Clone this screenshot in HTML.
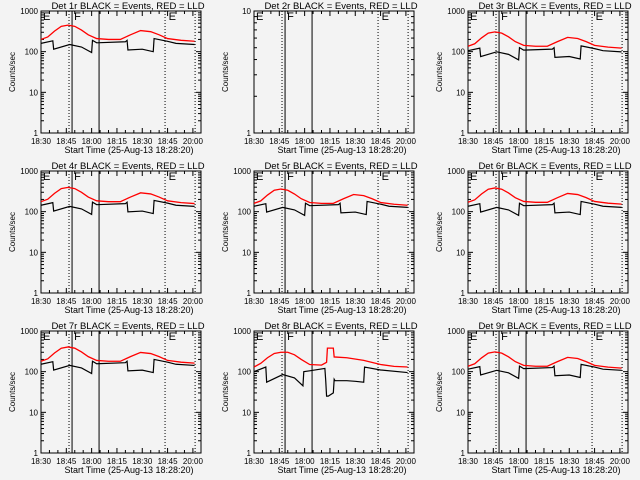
<!DOCTYPE html>
<html><head><meta charset="utf-8"><style>
body{margin:0;background:#f3f3f3;}
svg{display:block;font-family:"Liberation Sans",sans-serif;}
</style></head><body>
<svg id="c" width="640" height="480"></svg>
<script>
const panelTitles=["Det 1r BLACK = Events, RED = LLD","Det 2r BLACK = Events, RED = LLD","Det 3r BLACK = Events, RED = LLD","Det 4r BLACK = Events, RED = LLD","Det 5r BLACK = Events, RED = LLD","Det 6r BLACK = Events, RED = LLD","Det 7r BLACK = Events, RED = LLD","Det 8r BLACK = Events, RED = LLD","Det 9r BLACK = Events, RED = LLD"];
const xTickLabels=["18:30","18:45","18:00","18:15","18:30","18:45","20:00"];
const xTickMinutes=[0,15,30,45,60,75,90];
const redMinutes=[0,4,8,12,16,20,24,28,33,40,47,53,59,65,70,75,83,91];
const redBase=[200,230,320,420,450,420,340,260,210,200,200,260,330,310,260,210,190,180];
const blackMinutes=[0,7,7.5,17,24,30,30.5,33,50,51,51.5,60,66.5,67,75,80,91];
const blackBase=[160,185,115,150,130,95,190,165,175,190,110,115,100,210,180,160,150];
const redScale=[1,0,0.68,0.88,0.8,0.85,0.9,0,0.68];
const blackScale=[1,0,0.66,0.9,0.85,0.85,0.95,0,0.72];
const det8RedMinutes=[0,4,8,12,16,20,24,28,33,40,43,43.5,47,47.5,55,65,75,83,91];
const det8Red=[130,160,220,280,300,300,260,200,150,145,170,380,380,230,220,190,150,135,130];
const det8BlackMinutes=[0,7,7.5,17,24,29,29.5,33,42,42.5,43,44,47,47.5,48,55,60,65,65.5,75,91];
const det8Black=[100,130,55,85,70,45,100,105,120,60,25,25,30,65,60,60,58,55,130,110,95];
const markerMinutes=[16.6,18.4,34.4,73.5,91.3];
const markerStyles=["dot","solid","solid","dot","dot"];
const NS="http://www.w3.org/2000/svg";
const svg=document.getElementById('c');
function mk(t,a,p){const e=document.createElementNS(NS,t);for(const k in a)e.setAttribute(k,a[k]);(p||svg).appendChild(e);return e;}
for(let i=0;i<9;i++){
  const ox=Math.round((i%3)*213.33), oy=Math.floor(i/3)*160;
  const g=mk('g',{transform:`translate(${ox},${oy})`});
  
  
  const L=41,R=201,T=11,B=133;
  const isEmpty=(i===1);
  const ymin=0, ymax=isEmpty?1:3;
  const xs=m=>L+m*(R-L)/94.8;
  const ys=v=>B-(Math.log10(v)-ymin)/(ymax-ymin)*(B-T);
  const t=mk('text',{x:(L+R)/2+7,y:9,'font-size':9.5,'text-anchor':'middle',fill:'#000'},g);t.textContent=panelTitles[i];
  
  mk('rect',{x:L,y:T,width:R-L,height:B-T,fill:'none',stroke:'#000','stroke-width':1},g);
  for(let d=ymin;d<=ymax;d++){
    const y=ys(Math.pow(10,d));
    const lb=mk('text',{x:L-3,y:y+3,'font-size':8,'text-anchor':'end'},g);lb.textContent=String(Math.pow(10,d));
    
    mk('line',{x1:L,x2:L+5,y1:y,y2:y,stroke:'#000'},g);mk('line',{x1:R,x2:R-5,y1:y,y2:y,stroke:'#000'},g);
    if(d<ymax)for(let k=2;k<10;k++){const yy=ys(k*Math.pow(10,d));mk('line',{x1:L,x2:L+3,y1:yy,y2:yy,stroke:'#000'},g);mk('line',{x1:R,x2:R-3,y1:yy,y2:yy,stroke:'#000'},g);}
  }
  xTickMinutes.forEach((m,j)=>{
    const x=xs(m);
    mk('line',{x1:x,x2:x,y1:B,y2:B-5,stroke:'#000'},g);mk('line',{x1:x,x2:x,y1:T,y2:T+5,stroke:'#000'},g);
    const lb=mk('text',{x:x,y:B+11,'font-size':8,'text-anchor':'middle'},g);lb.textContent=xTickLabels[j];
    
  });
  for(let m=5;m<95;m+=5){if(m%15){const x=xs(m);mk('line',{x1:x,x2:x,y1:B,y2:B-3,stroke:'#000'},g);mk('line',{x1:x,x2:x,y1:T,y2:T+3,stroke:'#000'},g);}}
  const xt=mk('text',{x:(L+R)/2+8,y:B+20,'font-size':9,'text-anchor':'middle'},g);xt.textContent="Start Time (25-Aug-13 18:28:20)";
  
  const yt=mk('text',{x:0,y:0,'font-size':8,'text-anchor':'middle',transform:`translate(15,${(T+B)/2}) rotate(-90)`},g);yt.textContent="Counts/sec";
  
  markerMinutes.forEach((m,j)=>{const x=xs(m);const ln=mk('line',{x1:x,x2:x,y1:T,y2:B,stroke:'#000','stroke-width':1,'stroke-dasharray':markerStyles[j]==='dot'?'1,2':'none'},g);
    });
  [["E",0.6],["F",19],["E",75]].forEach(([s,m])=>{const e=mk('text',{x:xs(m)+1,y:T+9,'font-size':11},g);e.textContent=s;
    });
  if(isEmpty)continue;
  let rm,rv,bm,bv;
  if(i===7){rm=det8RedMinutes;rv=det8Red;bm=det8BlackMinutes;bv=det8Black;}
  else{rm=redMinutes;rv=redBase.map(v=>v*redScale[i]);bm=blackMinutes;bv=blackBase.map(v=>v*blackScale[i]);}
  const red=mk('polyline',{points:rm.map((m,k)=>xs(m)+','+ys(rv[k])).join(' '),fill:'none',stroke:'#f00','stroke-width':1.3},g);
  
  const blk=mk('polyline',{points:bm.map((m,k)=>xs(m)+','+ys(bv[k])).join(' '),fill:'none',stroke:'#000','stroke-width':1.2},g);
  
}
</script>
</body></html>
